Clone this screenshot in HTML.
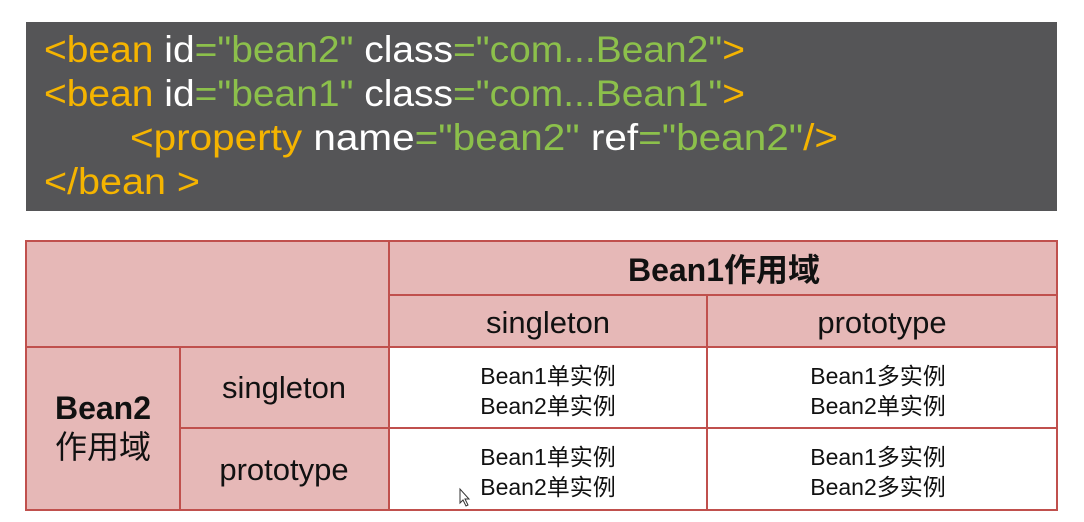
<!DOCTYPE html>
<html><head><meta charset="utf-8"><style>
html,body{margin:0;padding:0;background:#fff;width:1084px;height:522px;overflow:hidden}
svg{display:block}
.c{font-family:"Liberation Sans","Noto Sans CJK SC",sans-serif;font-size:37px}
.o{fill:#f5b400}.w{fill:#fff}.g{fill:#8cc04b}
.t{font-family:"Liberation Sans","Noto Sans CJK SC",sans-serif;fill:#111;text-anchor:middle}
</style></head><body>
<svg width="1084" height="522" viewBox="0 0 1084 522">
<rect x="26" y="22" width="1031" height="189" fill="#555557"/>
<text class="c" x="44" y="62" textLength="701" lengthAdjust="spacingAndGlyphs"><tspan class="o">&lt;bean</tspan><tspan class="w"> id</tspan><tspan class="g">="bean2"</tspan><tspan class="w"> class</tspan><tspan class="g">="com...Bean2"</tspan><tspan class="o">&gt;</tspan></text>
<text class="c" x="44" y="106" textLength="701" lengthAdjust="spacingAndGlyphs"><tspan class="o">&lt;bean</tspan><tspan class="w"> id</tspan><tspan class="g">="bean1"</tspan><tspan class="w"> class</tspan><tspan class="g">="com...Bean1"</tspan><tspan class="o">&gt;</tspan></text>
<text class="c" x="130" y="150" textLength="708" lengthAdjust="spacingAndGlyphs"><tspan class="o">&lt;property</tspan><tspan class="w"> name</tspan><tspan class="g">="bean2"</tspan><tspan class="w"> ref</tspan><tspan class="g">="bean2"</tspan><tspan class="o">/&gt;</tspan></text>
<text class="c o" x="44" y="194" textLength="156" lengthAdjust="spacingAndGlyphs">&lt;/bean &gt;</text>

<g stroke="#c0504d" stroke-width="2">
<rect x="26" y="241" width="1031" height="269" fill="#e6b8b7"/>
<rect x="389" y="347" width="668" height="163" fill="#fff" stroke="none"/>
<line x1="389" y1="241" x2="389" y2="510"/>
<line x1="389" y1="295" x2="1057" y2="295"/>
<line x1="707" y1="295" x2="707" y2="510"/>
<line x1="26" y1="347" x2="1057" y2="347"/>
<line x1="180" y1="347" x2="180" y2="510"/>
<line x1="180" y1="428" x2="1057" y2="428"/>
<rect x="26" y="241" width="1031" height="269" fill="none"/>
</g>
<text class="t" x="724" y="281" font-size="32" font-weight="bold">Bean1作用域</text>
<text class="t" x="548" y="333" font-size="31">singleton</text>
<text class="t" x="882" y="333" font-size="31">prototype</text>
<text class="t" x="284" y="398" font-size="31">singleton</text>
<text class="t" x="284" y="480" font-size="31">prototype</text>
<text class="t" x="103" y="419" font-size="32" font-weight="bold">Bean2</text>
<text class="t" x="103" y="458" font-size="32">作用域</text>
<g font-size="23">
<text class="t" x="548" y="384">Bean1单实例</text>
<text class="t" x="548" y="414">Bean2单实例</text>
<text class="t" x="548" y="465">Bean1单实例</text>
<text class="t" x="548" y="495">Bean2单实例</text>
<text class="t" x="878" y="384">Bean1多实例</text>
<text class="t" x="878" y="414">Bean2单实例</text>
<text class="t" x="878" y="465">Bean1多实例</text>
<text class="t" x="878" y="495">Bean2多实例</text>
</g>
<path d="M460 489 L460 503 L463 500 L466 506 L468 505 L465 499 L469 499 Z" fill="#fff" stroke="#333" stroke-width="1"/>
</svg>
</body></html>
